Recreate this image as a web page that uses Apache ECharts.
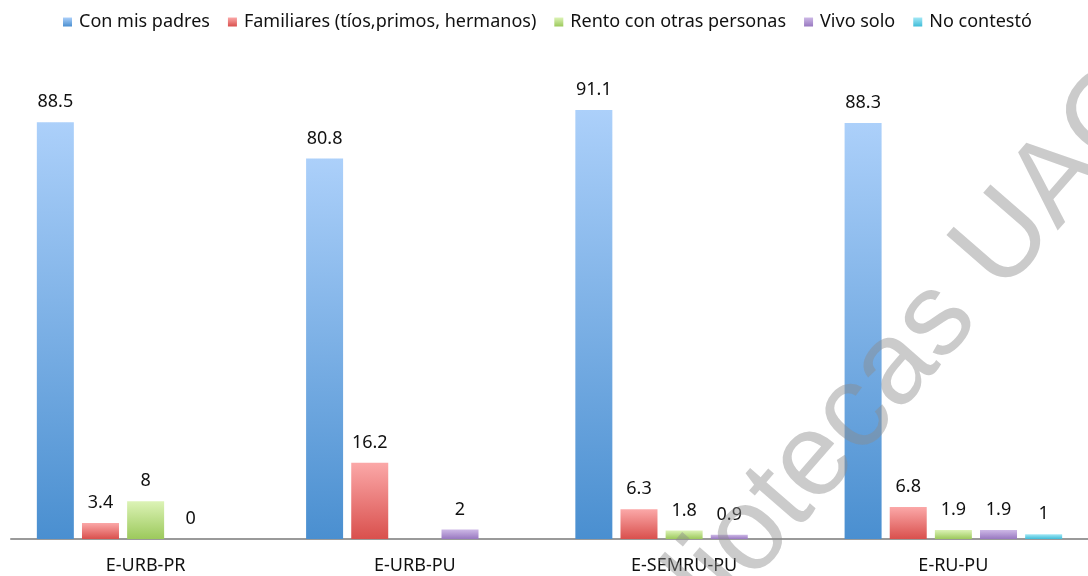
<!DOCTYPE html>
<html>
<head>
<meta charset="utf-8">
<script src="https://cdn.jsdelivr.net/npm/echarts@6/dist/echarts.min.js"></script>
<style>
    html, body {margin: 0; padding: 0; background: #fff;}
    #chart {width: 1088px; height: 576px;}
</style>
</head>
<body>
<div id="chart"></div>
<script>
const categories = ['E-URB-PR', 'E-URB-PU', 'E-SEMRU-PU', 'E-RU-PU']

const con_mis_padres = [88.5, 80.8, 91.1, 88.3]
const familiares = [3.4, 16.2, 6.3, 6.8]
const rento = [8, null, 1.8, 1.9]
const vivo_solo = [0, 2, 0.9, 1.9]
const no_contesto = [null, null, null, 1]

const series_names = [
    'Con mis padres',
    'Familiares (tíos,primos, hermanos)',
    'Rento con otras personas',
    'Vivo solo',
    'No contestó',
]

// top / bottom colour of each bar gradient
const palette = [
    ['#acd0fa', '#4a8fd0'],
    ['#fba8a8', '#d9504d'],
    ['#dcf3b6', '#9cc95c'],
    ['#cdb8e6', '#9878c0'],
    ['#a3e8f6', '#3fbcd8'],
]

const FONT = 'Noto Sans'

const grad = ([top, bottom]) => new echarts.graphic.LinearGradient(0, 0, 0, 1, [
    {offset: 0, color: top},
    {offset: 1, color: bottom},
])

const build_series = (name, data, k) => ({
    name,
    type: 'bar',
    data,
    barWidth: 37,
    barGap: '22%',
    animation: false,
    itemStyle: {
        color: grad(palette[k]),
    },
    label: {
        show: true,
        position: 'top',
        distance: 11,
        color: '#111',
        fontFamily: FONT,
        fontSize: 18,
    },
})

const chart = echarts.init(document.getElementById('chart'))

chart.setOption({
    backgroundColor: '#fff',
    legend: {
        top: 8,
        left: 58,
        itemWidth: 9,
        itemHeight: 9,
        itemGap: 18,
        icon: 'rect',
        textStyle: {
            fontFamily: FONT,
            fontSize: 18,
            color: '#111',
            padding: [0, 0, 0, 2],
        },
    },
    grid: {
        left: 11,
        top: 68,
        width: 1088,
        bottom: 37,
    },
    xAxis: {
        type: 'category',
        data: categories,
        axisTick: {show: false},
        axisLine: {lineStyle: {color: '#9a9a9a', width: 2}},
        axisLabel: {
            margin: 18,
            fontFamily: FONT,
            fontSize: 18,
            color: '#111',
        },
    },
    yAxis: {
        type: 'value',
        min: 0,
        max: 100,
        show: false,
        splitLine: {show: false},
    },
    series: [
        build_series(series_names[0], con_mis_padres, 0),
        build_series(series_names[1], familiares, 1),
        build_series(series_names[2], rento, 2),
        build_series(series_names[3], vivo_solo, 3),
        build_series(series_names[4], no_contesto, 4),
    ],
    graphic: [
        {
            // watermark
            type: 'text',
            x: 863,
            y: 405,
            rotation: 0.855,
            z: 100,
            silent: true,
            style: {
                text: 'Bibliotecas UAQ',
                fontFamily: 'Liberation Sans',
                fontSize: 118,
                fill: 'rgba(140,140,140,0.45)',
                align: 'center',
                verticalAlign: 'middle',
            },
        },
    ],
})
</script>
</body>
</html>
